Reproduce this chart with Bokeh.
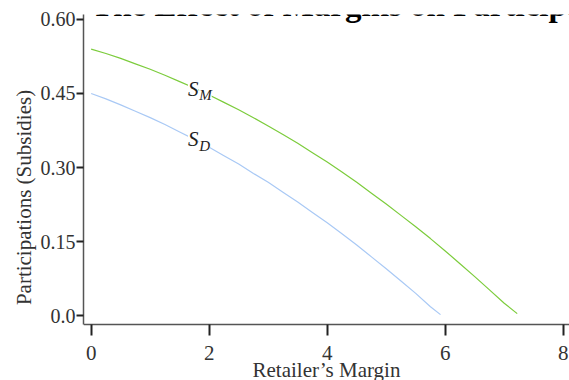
from bokeh.plotting import figure
from bokeh.models import Range1d, Label
from bokeh.embed import file_html
from bokeh.resources import INLINE

# Participation (subsidies) against the retailer's margin
margin_m = [0.0, 0.25, 0.5, 0.75, 1.0, 1.25, 1.5, 1.75, 2.0, 2.25, 2.5, 2.75, 3.0, 3.25,
            3.5, 3.75, 4.0, 4.25, 4.5, 4.75, 5.0, 5.25, 5.5, 5.75, 6.0, 6.25, 6.5,
            6.75, 7.0, 7.22]
s_m = [0.540, 0.531, 0.521, 0.510, 0.499, 0.487, 0.474, 0.461, 0.447, 0.432, 0.417,
       0.401, 0.384, 0.367, 0.349, 0.330, 0.311, 0.291, 0.270, 0.248, 0.226, 0.203,
       0.180, 0.156, 0.131, 0.105, 0.079, 0.052, 0.025, 0.004]

margin_d = [0.0, 0.25, 0.5, 0.75, 1.0, 1.25, 1.5, 1.75, 2.0, 2.25, 2.5, 2.75, 3.0, 3.25,
            3.5, 3.75, 4.0, 4.25, 4.5, 4.75, 5.0, 5.25, 5.5, 5.75, 5.92]
s_d = [0.450, 0.439, 0.427, 0.414, 0.401, 0.387, 0.372, 0.357, 0.341, 0.324, 0.307,
       0.288, 0.270, 0.250, 0.230, 0.209, 0.188, 0.166, 0.143, 0.119, 0.095, 0.070,
       0.045, 0.018, 0.002]

x_ticks = [0, 2, 4, 6, 8]
y_ticks = [0.0, 0.15, 0.30, 0.45, 0.60]
y_tick_labels = ["0.0", "0.15", "0.30", "0.45", "0.60"]

SERIF = "Liberation Serif"

# axes meet slightly below zero; the frame runs down to the page edge and the
# x axis is pinned at Y_AXIS_FLOOR so its labels can hang below it
Y_AXIS_FLOOR = -0.018
Y_TOP = 0.61

p = figure(width=569, height=380,
           x_range=Range1d(-0.13, 8.106), y_range=Range1d(-0.1315, Y_TOP),
           output_backend="svg", toolbar_location=None,
           min_border_left=83, min_border_right=0,
           min_border_top=14, min_border_bottom=0,
           x_axis_label="Retailer\u2019s Margin",
           y_axis_label="Participations (Subsidies)")

p.outline_line_color = None
p.grid.visible = False

for ax in (p.xaxis, p.yaxis):
    ax.axis_line_color = "#555555"
    ax.axis_line_width = 1.5
    ax.major_tick_line_color = "#222222"
    ax.major_tick_line_width = 2
    ax.major_tick_in = 0
    ax.minor_tick_line_color = None
    ax.major_label_text_font = SERIF
    ax.major_label_text_color = "#333333"
    ax.axis_label_text_font = SERIF
    ax.axis_label_text_font_style = "normal"
    ax.axis_label_text_color = "#333333"

p.xaxis.fixed_location = Y_AXIS_FLOOR
p.xaxis.ticker = x_ticks
p.xaxis.major_tick_out = 11
p.xaxis.major_label_text_font_size = "21px"
p.xaxis.major_label_standoff = 11
p.xaxis.axis_label_text_font_size = "21px"
p.xaxis.axis_label_standoff = -6

p.yaxis.bounds = (Y_AXIS_FLOOR, Y_TOP)
p.yaxis.ticker = y_ticks
p.yaxis.major_label_overrides = {t: s for t, s in zip(y_ticks, y_tick_labels)}
p.yaxis.major_tick_out = 7
p.yaxis.major_label_text_font_size = "20px"
p.yaxis.major_label_standoff = 1
p.yaxis.axis_label_text_font_size = "21px"
p.yaxis.axis_label_standoff = 2

p.line(margin_m, s_m, line_color="#7ccc3c", line_width=1.2)
p.line(margin_d, s_d, line_color="#a9c9f5", line_width=1.2)

# curve labels with subscripts, masking the line behind them
def curve_label(x, y, sub, sub_dx, sub_dy):
    p.add_layout(Label(x=x, y=y, text="S", text_font=SERIF, text_font_style="italic",
                       text_font_size="21px", text_color="#222222",
                       text_baseline="alphabetic", background_fill_color="white"))
    p.add_layout(Label(x=x + sub_dx, y=y + sub_dy, text=sub, text_font=SERIF,
                       text_font_style="italic", text_font_size="15px",
                       text_color="#222222", text_baseline="alphabetic",
                       background_fill_color="white"))

curve_label(1.64, 0.460, "M", 0.19, -0.013)
curve_label(1.64, 0.357, "D", 0.19, -0.013)

# figure caption running off the top edge
p.add_layout(Label(x=-1.109, y=0.630, text="5.6",
                   text_font=SERIF, text_font_style="bold", text_font_size="33px",
                   text_color="black", text_align="right", text_baseline="alphabetic",
                   level="overlay"))
p.add_layout(Label(x=0.0, y=0.630,
                   text="The Effect of Margins on Participations",
                   text_font=SERIF, text_font_style="bold", text_font_size="33px",
                   text_color="black", text_baseline="alphabetic", level="overlay"))

open("out.html", "w").write(file_html(p, INLINE))
